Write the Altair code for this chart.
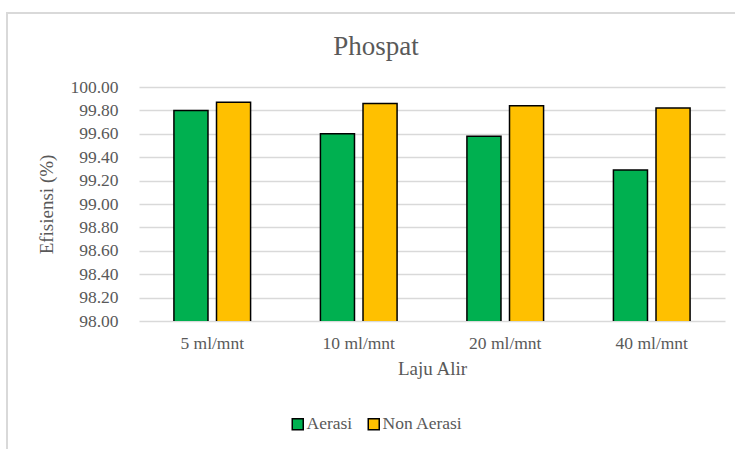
import altair as alt
import pandas as pd

# Flow rates and removal efficiency (%) for each treatment
flow_rates = ["5 ml/mnt", "10 ml/mnt", "20 ml/mnt", "40 ml/mnt"]
aerasi = [99.80, 99.60, 99.58, 99.29]
non_aerasi = [99.87, 99.86, 99.84, 99.82]
series = ["Aerasi", "Non Aerasi"]
y_ticks = [98.0, 98.2, 98.4, 98.6, 98.8, 99.0, 99.2, 99.4, 99.6, 99.8, 100.0]
chart_title = "Phospat"

rows = []
for i, f in enumerate(flow_rates):
    rows.append({"Laju": f, "Seri": series[0], "Efisiensi": aerasi[i]})
    rows.append({"Laju": f, "Seri": series[1], "Efisiensi": non_aerasi[i]})
df = pd.DataFrame(rows)

FONT = "Liberation Serif"
GREY = "#595959"

bars = alt.Chart(df).mark_bar(stroke="black", strokeWidth=1.5, clip=True).encode(
    x=alt.X(
        "Laju:N",
        sort=flow_rates,
        scale=alt.Scale(paddingInner=0, paddingOuter=0),
        axis=alt.Axis(
            title="Laju Alir",
            labelAngle=0,
            labelFont=FONT,
            labelFontSize=17.5,
            labelColor=GREY,
            labelPadding=13,
            titleFont=FONT,
            titleFontSize=19,
            titleFontWeight="normal",
            titleColor=GREY,
            titlePadding=8,
            domain=False,
            ticks=False,
        ),
    ),
    xOffset=alt.XOffset(
        "Seri:N",
        sort=series,
        scale=alt.Scale(paddingInner=0.2, paddingOuter=0.82),
    ),
    y=alt.Y(
        "Efisiensi:Q",
        scale=alt.Scale(domain=[98, 100], nice=False, zero=False),
        axis=alt.Axis(
            title="Efisiensi (%)",
            values=y_ticks,
            format=".2f",
            labelFont=FONT,
            labelFontSize=17.5,
            labelColor=GREY,
            labelPadding=21,
            titleFont=FONT,
            titleFontSize=19,
            titleFontWeight="normal",
            titleColor=GREY,
            titlePadding=13,
            domain=False,
            ticks=False,
            grid=True,
            gridColor="#d9d9d9",
            gridWidth=1.5,
        ),
    ),
    color=alt.Color(
        "Seri:N",
        sort=series,
        scale=alt.Scale(domain=series, range=["#00B050", "#FFC000"]),
        legend=alt.Legend(
            title=None,
            orient="none",
            direction="horizontal",
            legendX=150,
            legendY=328,
            symbolType="square",
            symbolSize=121,
            symbolStrokeColor="black",
            symbolStrokeWidth=1.5,
            labelFont=FONT,
            labelFontSize=17.5,
            labelColor=GREY,
            labelOffset=0,
            columnPadding=12,
        ),
    ),
)

# light frame around the whole chart area
frame = alt.Chart(pd.DataFrame({"k": [0]})).mark_rect(
    fill=None, stroke="#d9d9d9", strokeWidth=2
).encode(
    x=alt.value(-132), x2=alt.value(620), y=alt.value(-74), y2=alt.value(380)
)

# chart heading, centred over the whole chart area
heading = alt.Chart(pd.DataFrame({"t": [chart_title]})).mark_text(
    font=FONT, fontSize=27, color=GREY, align="center", baseline="alphabetic"
).encode(
    text="t:N", x=alt.value(237), y=alt.value(-32)
)

chart = (
    alt.layer(frame, bars, heading)
    .properties(
        width=586,
        height=234,
        autosize=alt.AutoSizeParams(type="none"),
        padding={"left": 139, "top": 87, "right": 10, "bottom": 128},
    )
    .configure_view(stroke=None)
)

chart.save("out.html", embed_options={"renderer": "svg", "actions": False})
